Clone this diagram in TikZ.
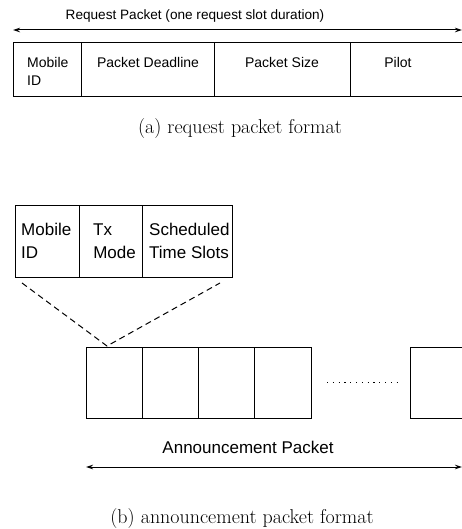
\documentclass[tikz,border=0pt]{standalone}
\usepackage{fontspec}
\setmainfont{Latin Modern Roman}
\newfontfamily\arialfont{Liberation Sans}
\usetikzlibrary{arrows.meta}
\tikzset{
  field/.style={draw, line width=1pt, inner sep=0pt, anchor=north west},
  sanslbl/.style={font=\arialfont\fontsize{14}{16}\selectfont, inner sep=0pt},
  sansbig/.style={font=\arialfont\fontsize{17}{19}\selectfont, inner sep=0pt},
  captionlbl/.style={font=\fontsize{20}{24}\selectfont, inner sep=0pt},
  dimarrow/.style={line width=1pt, {Stealth[length=7pt,width=4.5pt]}-{Stealth[length=7pt,width=4.5pt]}},
  fanline/.style={line width=1pt, dash pattern=on 6pt off 4pt},
}
\begin{document}
\begin{tikzpicture}[x=1pt,y=-1pt]
\useasboundingbox (0,0) rectangle (462,529);

% ---------- (a) request packet ----------
\node[sanslbl, font=\arialfont\fontsize{13.6}{16}\selectfont] (rlab) at (195,16) {Request Packet (one request slot duration)};
\coordinate (ra) at (13,30);
\coordinate (rb) at (462,30);
\draw[dimarrow] (ra) -- (rb);

\node[field, minimum width=68pt, minimum height=54pt] (a1) at (13,42) {};
\node[field, minimum width=133pt, minimum height=54pt] (a2) at (81,42) {};
\node[field, minimum width=136pt, minimum height=54pt] (a3) at (214,42) {};
\node[field, minimum width=112pt, minimum height=54pt] (a4) at (350,42) {};

\node[sanslbl, anchor=base west] (t1a) at (27,68) {Mobile};
\node[sanslbl, anchor=base west] (t1b) at (27,86) {ID};
\node[sanslbl, anchor=base] (t2) at (148,68) {Packet Deadline};
\node[sanslbl, anchor=base] (t3) at (282,68) {Packet Size};
\node[sanslbl, anchor=base] (t4) at (398,68) {Pilot};

\node[captionlbl, anchor=base] (capa) at (240,134) {(a) request packet format};

% ---------- (b) announcement packet ----------
\node[field, minimum width=64pt, minimum height=72pt] (b1) at (15,205) {};
\node[field, minimum width=63pt, minimum height=72pt] (b2) at (79,205) {};
\node[field, minimum width=90pt, minimum height=72pt] (b3) at (142,205) {};

\node[sansbig, anchor=base west] (u1a) at (21,235) {Mobile};
\node[sansbig, anchor=base west] (u1b) at (21,258) {ID};
\node[sansbig, anchor=base west] (u2a) at (93,235) {Tx};
\node[sansbig, anchor=base east] (u2b) at (136,258) {Mode};
\node[sansbig, anchor=base west] (u3a) at (149,235) {Scheduled};
\node[sansbig, anchor=base west] (u3b) at (149,258) {Time Slots};

\node[field, minimum width=56pt, minimum height=71pt] (s1) at (86,347) {};
\node[field, minimum width=56pt, minimum height=71pt] (s2) at (142,347) {};
\node[field, minimum width=56pt, minimum height=71pt] (s3) at (198,347) {};
\node[field, minimum width=57pt, minimum height=71pt] (s4) at (254,347) {};
\node[field, minimum width=60pt, minimum height=71pt] (s5) at (410,347) {};

\coordinate (fl) at (22,283);
\coordinate (fr) at (220,283);
\coordinate (fp) at (107,346);
\draw[fanline] (fl) -- (fp) -- (fr);

\coordinate (d1) at (327,382);
\coordinate (d2) at (397,382);
\draw[line width=1pt, dash pattern=on 1.2pt off 4.6pt] (d1) -- (d2);

\node[sansbig, anchor=base] (alab) at (248,453) {Announcement Packet};
\coordinate (aa) at (86,467);
\coordinate (ab) at (462,467);
\draw[dimarrow] (aa) -- (ab);

\node[captionlbl, anchor=base] (capb) at (242,523) {(b) announcement packet format};
\end{tikzpicture}
\end{document}
